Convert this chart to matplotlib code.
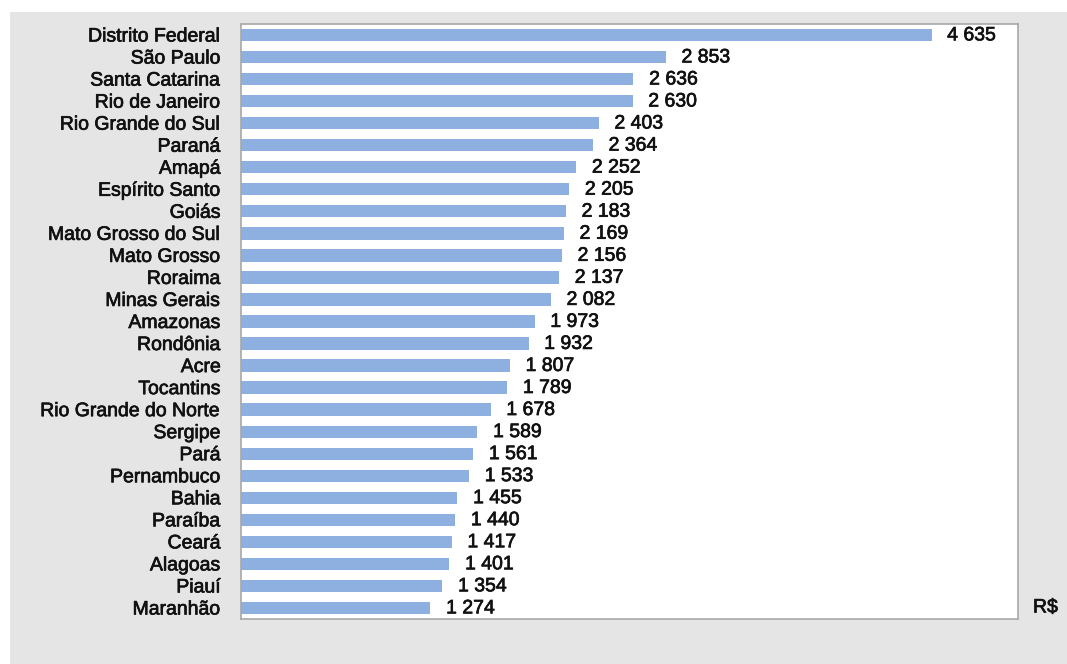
import matplotlib.pyplot as plt
import matplotlib.patheffects as pe
from matplotlib.patches import Rectangle

states = ['Distrito Federal', 'São Paulo', 'Santa Catarina', 'Rio de Janeiro',
          'Rio Grande do Sul', 'Paraná', 'Amapá', 'Espírito Santo', 'Goiás',
          'Mato Grosso do Sul', 'Mato Grosso', 'Roraima', 'Minas Gerais',
          'Amazonas', 'Rondônia', 'Acre', 'Tocantins', 'Rio Grande do Norte',
          'Sergipe', 'Pará', 'Pernambuco', 'Bahia', 'Paraíba', 'Ceará',
          'Alagoas', 'Piauí', 'Maranhão']
values = [4635, 2853, 2636, 2630, 2403, 2364, 2252, 2205, 2183, 2169, 2156,
          2137, 2082, 1973, 1932, 1807, 1789, 1678, 1589, 1561, 1533, 1455,
          1440, 1417, 1401, 1354, 1274]
unit = 'R$'

plt.rcParams['font.family'] = ['Liberation Sans', 'DejaVu Sans']
txt_fx = [pe.withStroke(linewidth=0.5, foreground='#111111')]

W, H = 1067, 664
fig = plt.figure(figsize=(W / 100, H / 100), dpi=100, facecolor='white')
fig.patches.append(Rectangle((10 / W, 0), 1 - 10 / W, 1 - 12 / H,
                             transform=fig.transFigure, facecolor='#e5e5e5',
                             edgecolor='none', zorder=-10))

ax = fig.add_axes([240.5 / W, 1 - 619 / H, (1018 - 240.5) / W, 595 / H])
ax.set_facecolor('white')
y = list(range(len(states)))
ax.barh(y, values, height=0.56, color='#8db0e0', zorder=2)
for yi, v in zip(y, values):
    ax.text(v + 105, yi + 0.04, f'{v:,}'.replace(',', ' '), va='center',
            ha='left', fontsize=14, color='#111111', path_effects=txt_fx)

ax.set_xlim(0, 5215)
ax.set_ylim(len(states) - 0.5, -0.5)
ax.set_yticks(y)
ax.set_yticklabels(states, fontsize=14, color='#111111')
for lbl in ax.get_yticklabels():
    lbl.set_path_effects(txt_fx)
ax.set_xticks([])
ax.tick_params(axis='y', length=0, pad=14)
for s in ax.spines.values():
    s.set_color('#a8a8a8')
    s.set_linewidth(1.2)

fig.text(1033 / W, 1 - 608 / H, unit, fontsize=14, color='#111111',
         va='center', ha='left', path_effects=txt_fx)

fig.savefig('out.png', dpi=100, facecolor=fig.get_facecolor())
